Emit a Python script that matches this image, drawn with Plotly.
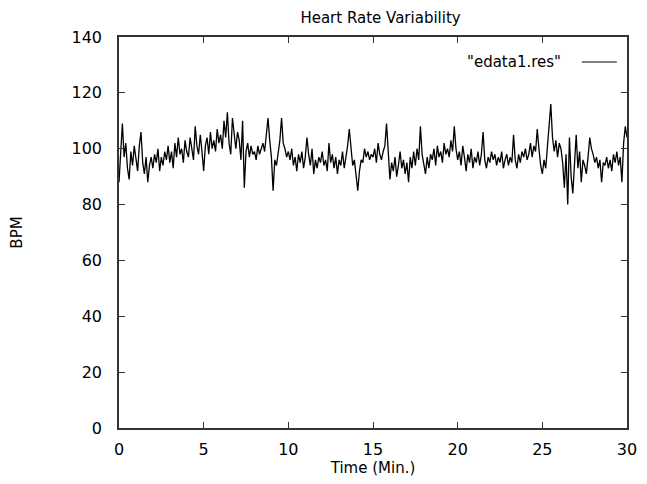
import plotly.graph_objects as go

# Heart rate samples (BPM), one every 0.1 minute
bpm_min00 = [88, 100, 109, 97, 102, 93, 89, 99, 94, 101]
bpm_min01 = [96, 92, 101, 106, 95, 91, 97, 88, 94, 97]
bpm_min02 = [93, 98, 95, 100, 92, 97, 94, 99, 96, 101]
bpm_min03 = [95, 99, 93, 102, 97, 104, 98, 100, 95, 103]
bpm_min04 = [99, 97, 104, 100, 96, 108, 101, 98, 105, 99]
bpm_min05 = [92, 101, 104, 98, 106, 100, 103, 99, 107, 102]
bpm_min06 = [105, 100, 110, 104, 113, 102, 98, 111, 104, 100]
bpm_min07 = [106, 103, 96, 110, 86, 99, 102, 97, 101, 98]
bpm_min08 = [99, 96, 101, 98, 100, 102, 99, 104, 111, 103]
bpm_min09 = [97, 85, 96, 94, 99, 103, 111, 102, 100, 97]
bpm_min10 = [99, 96, 100, 94, 97, 92, 98, 95, 99, 93]
bpm_min11 = [97, 104, 98, 94, 100, 91, 96, 93, 97, 95]
bpm_min12 = [99, 94, 96, 92, 102, 95, 98, 93, 97, 91]
bpm_min13 = [96, 94, 99, 93, 97, 101, 107, 99, 94, 96]
bpm_min14 = [90, 85, 92, 96, 95, 100, 97, 99, 96, 98]
bpm_min15 = [97, 100, 95, 102, 98, 96, 99, 101, 109, 97]
bpm_min16 = [89, 95, 92, 97, 90, 94, 99, 93, 96, 91]
bpm_min17 = [95, 88, 97, 93, 99, 94, 100, 96, 108, 98]
bpm_min18 = [95, 91, 97, 93, 98, 96, 100, 94, 101, 97]
bpm_min19 = [99, 95, 102, 98, 100, 97, 103, 99, 108, 100]
bpm_min20 = [96, 99, 94, 101, 97, 92, 98, 95, 100, 93]
bpm_min21 = [97, 95, 99, 94, 98, 106, 96, 93, 97, 95]
bpm_min22 = [99, 96, 98, 94, 97, 95, 99, 93, 96, 98]
bpm_min23 = [94, 97, 95, 105, 96, 93, 98, 95, 99, 97]
bpm_min24 = [100, 96, 98, 102, 97, 101, 99, 107, 100, 94]
bpm_min25 = [91, 96, 93, 101, 106, 116, 104, 99, 103, 97]
bpm_min26 = [102, 100, 95, 86, 98, 80, 104, 90, 84, 97]
bpm_min27 = [105, 93, 99, 88, 96, 94, 91, 97, 104, 100]
bpm_min28 = [98, 95, 97, 93, 96, 88, 95, 94, 97, 93]
bpm_min29 = [96, 92, 98, 95, 99, 94, 97, 88, 102, 108]
bpm_end = [104]

bpm = (bpm_min00 + bpm_min01 + bpm_min02 + bpm_min03 + bpm_min04 + bpm_min05 +
       bpm_min06 + bpm_min07 + bpm_min08 + bpm_min09 + bpm_min10 + bpm_min11 +
       bpm_min12 + bpm_min13 + bpm_min14 + bpm_min15 + bpm_min16 + bpm_min17 +
       bpm_min18 + bpm_min19 + bpm_min20 + bpm_min21 + bpm_min22 + bpm_min23 +
       bpm_min24 + bpm_min25 + bpm_min26 + bpm_min27 + bpm_min28 + bpm_min29 +
       bpm_end)
time_min = [i * 0.1 for i in range(len(bpm))]

x_ticks = [0, 5, 10, 15, 20, 25, 30]
y_ticks = [0, 20, 40, 60, 80, 100, 120, 140]

FONT = "DejaVu Sans"

fig = go.Figure()
fig.add_trace(go.Scatter(x=time_min, y=bpm, mode="lines",
                         line=dict(color="black", width=1.3),
                         name='"edata1.res"', showlegend=False))

axis_common = dict(showgrid=False, zeroline=False, showline=True,
                   linecolor="#333333", linewidth=1.5, mirror="ticks",
                   ticks="inside", ticklen=6, tickcolor="#333333", tickwidth=1.2,
                   tickfont=dict(family=FONT, size=16, color="black"))

fig.update_xaxes(range=[0, 30], tickvals=x_ticks, ticklabelstandoff=6,
                 title=dict(text="Time (Min.)", font=dict(family=FONT, size=15, color="black"),
                            standoff=0),
                 **axis_common)
fig.update_yaxes(range=[0, 140], tickvals=y_ticks, ticklabelstandoff=12,
                 title=dict(text="BPM", font=dict(family=FONT, size=15, color="black"),
                            standoff=46),
                 **axis_common)

# legend entry drawn gnuplot-style (text, then line sample on the right)
fig.add_annotation(xref="paper", yref="paper", x=0.874, y=0.936,
                   xanchor="right", yanchor="middle", showarrow=False,
                   text='"edata1.res"', font=dict(family=FONT, size=15, color="black"))
fig.add_shape(type="line", xref="paper", yref="paper", x0=0.911, x1=0.980,
              y0=0.936, y1=0.936, line=dict(color="black", width=1))

fig.update_layout(
    width=639, height=476,
    margin=dict(l=111, r=20, t=29, b=56, autoexpand=False),
    paper_bgcolor="white", plot_bgcolor="white",
    title=dict(text="Heart Rate Variability", x=0.583, xanchor="center",
               y=1 - 10 / 476, yanchor="middle",
               font=dict(family=FONT, size=15, color="black")),
)

fig.write_html("out.html")
